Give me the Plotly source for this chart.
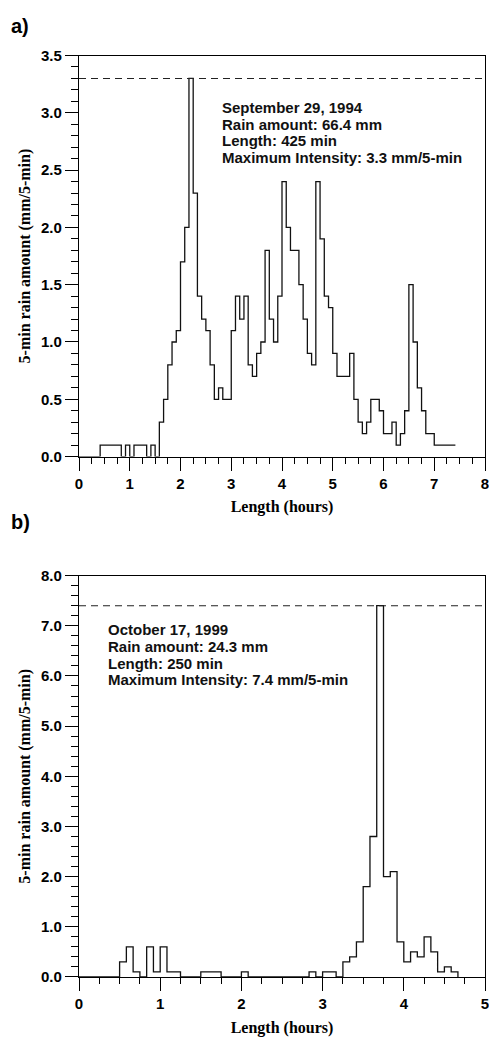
import plotly.graph_objects as go

# 5-min rain amounts (mm/5-min), one value per 5-min bin starting at 0 h
rain_a = [0, 0, 0, 0, 0,
          0.1, 0.1, 0.1, 0.1, 0.1, 0, 0.1, 0, 0.1, 0.1, 0.1, 0, 0.1, 0,
          0.3, 0.5, 0.8, 1.0, 1.1, 1.7, 2.0, 3.3, 2.3, 1.4, 1.2, 1.1, 0.8, 0.5, 0.6, 0.5, 0.5,
          1.1, 1.4, 1.2, 1.4, 0.8, 0.7, 0.9, 1.0, 1.8, 1.2, 1.0, 1.4,
          2.4, 2.0, 1.8, 1.8, 1.5, 1.2, 0.9, 0.8, 2.4, 1.9, 1.4, 1.3, 0.9, 0.7, 0.7, 0.7,
          0.9, 0.5, 0.3, 0.2, 0.3, 0.5, 0.5, 0.4, 0.2, 0.2, 0.3, 0.1, 0.2, 0.4,
          1.5, 1.0, 0.6, 0.4, 0.2, 0.2, 0.1, 0.1, 0.1, 0.1, 0.1]
rain_b = [0, 0, 0, 0, 0, 0,
          0.3, 0.6, 0.1, 0, 0.6, 0.1, 0.6, 0.1, 0.1, 0, 0, 0, 0.1, 0.1, 0.1, 0, 0, 0, 0.1,
          0, 0, 0, 0, 0, 0, 0, 0, 0, 0.1, 0, 0.1, 0.1, 0,
          0.3, 0.4, 0.7, 1.8, 2.8, 7.4, 2.0, 2.1, 0.7, 0.3, 0.5, 0.4, 0.8, 0.5, 0.1, 0.2, 0.1, 0]

max_a = 3.3
max_b = 7.4
text_a = ["September 29, 1994", "Rain amount: 66.4 mm", "Length: 425 min",
          "Maximum Intensity: 3.3 mm/5-min"]
text_b = ["October 17, 1999", "Rain amount: 24.3 mm", "Length: 250 min",
          "Maximum Intensity: 7.4 mm/5-min"]
xticks_a = [0, 1, 2, 3, 4, 5, 6, 7, 8]
xticks_b = [0, 1, 2, 3, 4, 5]
yticks_a = [0.0, 0.5, 1.0, 1.5, 2.0, 2.5, 3.0, 3.5]
yticks_b = [0.0, 1.0, 2.0, 3.0, 4.0, 5.0, 6.0, 7.0, 8.0]


def step_xy(vals, close):
    xs = [i * 5 / 60 for i in range(len(vals))]
    ys = list(vals)
    if not close:
        xs.append(len(vals) * 5 / 60)
        ys.append(vals[-1])
    return xs, ys


W, H = 489, 1044
fig = go.Figure()

xa, ya = step_xy(rain_a, False)
xb, yb = step_xy(rain_b, True)
line = dict(color="#111111", width=1.3, shape="hv")
fig.add_trace(go.Scatter(x=xa, y=ya, mode="lines", line=line, xaxis="x", yaxis="y",
                         showlegend=False, hoverinfo="skip"))
fig.add_trace(go.Scatter(x=xb, y=yb, mode="lines", line=line, xaxis="x2", yaxis="y2",
                         showlegend=False, hoverinfo="skip"))
# dashed max-intensity lines
dash = dict(color="#222222", width=1.1, dash="7px,5px")
fig.add_trace(go.Scatter(x=[xticks_a[0], xticks_a[-1]], y=[max_a, max_a], mode="lines",
                         line=dash, xaxis="x", yaxis="y", showlegend=False, hoverinfo="skip"))
fig.add_trace(go.Scatter(x=[xticks_b[0], xticks_b[-1]], y=[max_b, max_b], mode="lines",
                         line=dash, xaxis="x2", yaxis="y2", showlegend=False, hoverinfo="skip"))

tickfont = dict(family="Liberation Sans", size=15, weight="bold", color="black")
titlefont = dict(family="Liberation Serif", size=16, weight="bold", color="black")


def xaxis(rng, ticks, anchor):
    return dict(range=rng, tickvals=ticks, ticktext=[str(t) for t in ticks],
                showline=True, mirror=True, linecolor="black", linewidth=1.3,
                ticks="outside", ticklen=13, tickwidth=1.2, tickcolor="black",
                minor=dict(dtick=0.25, ticks="outside", ticklen=6, tickwidth=1.2,
                           tickcolor="black"),
                showgrid=False, zeroline=False, tickfont=tickfont,
                ticklabeloverflow="allow",
                title=dict(text="Length (hours)", font=titlefont, standoff=10),
                anchor=anchor)


def yaxis(rng, ticks, mdt, dom, anchor):
    return dict(range=rng, tickvals=ticks, ticktext=[f"{t:.1f}" for t in ticks],
                showline=True, mirror=True, linecolor="black", linewidth=1.3,
                ticks="outside", ticklen=13, tickwidth=1.2, tickcolor="black",
                minor=dict(dtick=mdt, ticks="outside", ticklen=7, tickwidth=1.2,
                           tickcolor="black"),
                showgrid=False, zeroline=False, tickfont=tickfont, domain=dom,
                ticklabeloverflow="allow",
                title=dict(text="5-min rain amount (mm/5-min)", font=titlefont, standoff=6),
                anchor=anchor)


dom_a = [(H - 455) / H, (H - 47.3) / H]
dom_b = [(H - 984) / H, (H - 576) / H]

fig.update_layout(
    width=W, height=H,
    margin=dict(l=79, r=1, t=0, b=0),
    paper_bgcolor="white", plot_bgcolor="white",
    xaxis=xaxis([0, 8], xticks_a, "y"),
    yaxis=yaxis([0, 3.5], yticks_a, 0.1, dom_a, "x"),
    xaxis2=xaxis([0, 5], xticks_b, "y2"),
    yaxis2=yaxis([0, 8], yticks_b, 0.2, dom_b, "x2"),
)

annfont = dict(family="Liberation Sans", size=15, weight="bold", color="#111111")
# one annotation per text line (line spacing ~17 px)
for i, t in enumerate(text_a):
    fig.add_annotation(x=2.77, y=3.047 - i * 17 / 116.5, xref="x", yref="y", text=t,
                       showarrow=False, xanchor="left", yanchor="middle", font=annfont)
for i, t in enumerate(text_b):
    fig.add_annotation(x=0.327, y=6.92 - i * 17 / 51, xref="x2", yref="y2", text=t,
                       showarrow=False, xanchor="left", yanchor="middle", font=annfont)

labfont = dict(family="Liberation Sans", size=20, weight="bold", color="black")
fig.add_annotation(x=(8 - 79) / 409, y=(H - 17) / H, xref="paper", yref="paper", text="a)",
                   showarrow=False, xanchor="left", yanchor="middle", font=labfont)
fig.add_annotation(x=(8 - 79) / 409, y=(H - 521) / H, xref="paper", yref="paper", text="b)",
                   showarrow=False, xanchor="left", yanchor="middle", font=labfont)

fig.write_html("out.html")
